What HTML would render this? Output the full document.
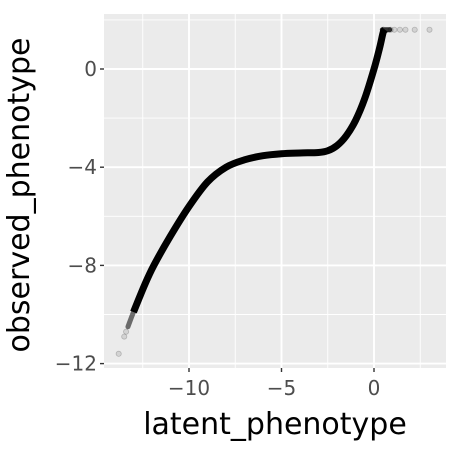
<!DOCTYPE html>
<html><head><meta charset="utf-8"><style>
body{margin:0;background:#fff}
svg{display:block;font-family:"DejaVu Sans","Liberation Sans",sans-serif}
</style></head><body>
<svg id="chart" width="450" height="450"></svg>
<script>
const xTicks=[-10,-5,0];
const yTicks=[0,-4,-8,-12];
const curveX=[-13.0,-12.4,-11.9,-11.0,-10.0,-9.0,-8.0,-7.0,-6.0,-5.0,-4.0,-3.0,-2.5,-2.0,-1.5,-1.0,-0.5,0,0.3,0.5,0.6];
const curveY=[-9.9,-8.8,-8.0,-6.8,-5.6,-4.6,-4.0,-3.7,-3.53,-3.45,-3.42,-3.4,-3.33,-3.12,-2.72,-2.1,-1.2,0,0.85,1.5,1.6];
const capX=[0.45,0.85];
const capY=[1.6,1.6];
const tailX=[-13.3,-13.0,-12.6];
const tailY=[-10.5,-9.9,-9.2];
const sparseX=[-13.8,-13.5,-13.4,0.9,1.1,1.4,1.7,2.2,3.0];
const sparseY=[-11.6,-10.9,-10.7,1.6,1.6,1.6,1.6,1.6,1.6];
const NS="http://www.w3.org/2000/svg";
const svg=document.getElementById('chart');
const L=104,R=446,T=14,B=368;
const sx=v=>374+v*18.5;
const sy=v=>69-v*24.55;
function mk(t,a){const e=document.createElementNS(NS,t);for(const k in a)e.setAttribute(k,a[k]);svg.appendChild(e);return e;}
function smooth(xs,ys){
const p=xs.map((x,i)=>[sx(x),sy(ys[i])]);
let d='M'+p[0][0]+','+p[0][1];
for(let i=0;i<p.length-1;i++){
const p0=p[Math.max(0,i-1)],p1=p[i],p2=p[i+1],p3=p[Math.min(p.length-1,i+2)];
const c1=[p1[0]+(p2[0]-p0[0])/6,p1[1]+(p2[1]-p0[1])/6];
const c2=[p2[0]-(p3[0]-p1[0])/6,p2[1]-(p3[1]-p1[1])/6];
d+=' C'+c1[0]+','+c1[1]+' '+c2[0]+','+c2[1]+' '+p2[0]+','+p2[1];}
return d;}
const bg=mk('rect',{x:L,y:T,width:R-L,height:B-T,fill:'#ebebeb'});


for(const v of [-12.5,-7.5,-2.5,2.5]){const g=mk('line',{x1:sx(v),x2:sx(v),y1:T,y2:B,stroke:'#fff','stroke-width':0.9});}
for(const v of [2,-2,-6,-10]){const g=mk('line',{x1:L,x2:R,y1:sy(v),y2:sy(v),stroke:'#fff','stroke-width':0.9});}
xTicks.forEach(v=>{
const g=mk('line',{x1:sx(v),x2:sx(v),y1:T,y2:B,stroke:'#fff','stroke-width':1.9});


const t=mk('line',{x1:sx(v),x2:sx(v),y1:B,y2:B+4,stroke:'#333','stroke-width':1.4});


const l=mk('text',{x:sx(v),y:B+27,'text-anchor':'middle','font-size':20,fill:'#4d4d4d'});
l.textContent=(v<0?'\u2212'+(-v):v);


});
yTicks.forEach(v=>{
const g=mk('line',{x1:L,x2:R,y1:sy(v),y2:sy(v),stroke:'#fff','stroke-width':1.9});


const t=mk('line',{x1:L-4,x2:L,y1:sy(v),y2:sy(v),stroke:'#333','stroke-width':1.4});


const l=mk('text',{x:L-7,y:sy(v)+7,'text-anchor':'end','font-size':20,fill:'#4d4d4d'});
l.textContent=(v<0?'\u2212'+(-v):v);


});
const tl=mk('path',{d:smooth(tailX,tailY),fill:'none',stroke:'rgba(0,0,0,0.55)','stroke-width':5,'stroke-linecap':'round'});


const pl=mk('path',{d:smooth(curveX,curveY),fill:'none',stroke:'#000','stroke-width':7,'stroke-linejoin':'round','stroke-linecap':'butt'});


const cp=mk('path',{d:smooth(capX,capY),fill:'none',stroke:'rgba(0,0,0,0.8)','stroke-width':5,'stroke-linecap':'round'});


sparseX.forEach((x,i)=>{
const c=mk('circle',{cx:sx(x),cy:sy(sparseY[i]),r:2.6,fill:'rgba(0,0,0,0.1)',stroke:'rgba(0,0,0,0.2)','stroke-width':0.8});


});
const xl=mk('text',{x:275,y:434,'text-anchor':'middle','font-size':30,fill:'#000'});
xl.textContent='latent_phenotype';


const yl=mk('text',{x:0,y:0,'text-anchor':'middle','font-size':30,fill:'#000',transform:'translate(29,195) rotate(-90)'});
yl.textContent='observed_phenotype';


</script>
</body></html>
